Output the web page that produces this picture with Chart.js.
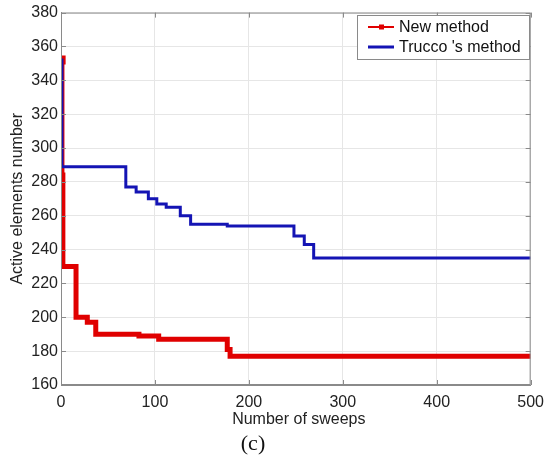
<!DOCTYPE html>
<html>
<head>
<meta charset="utf-8">
<script src="https://cdn.jsdelivr.net/npm/chart.js@4/dist/chart.umd.min.js"></script>
<style>
  html, body { margin: 0; padding: 0; background: #fff; }
  #wrap { width: 552px; height: 463px; }
</style>
</head>
<body>
<div id="wrap"><canvas id="c" width="552" height="463"></canvas></div>
<script>
// step points (sweep, value) where each method changes level
var newSweeps = [0, 1, 2, 16, 28, 37, 83, 104, 177, 180, 500];
var newValues = [352, 284, 230, 200, 197, 190, 189, 187, 181, 177, 177];

var truccoSweeps = [0, 1, 69, 80, 93, 102, 112, 127, 138, 177, 248, 259, 269, 500];
var truccoValues = [352, 289, 277, 274, 270, 267, 265, 260, 255, 254, 248, 243, 235, 235];

var xTicks = [0, 100, 200, 300, 400, 500];
var yTicks = [160, 180, 200, 220, 240, 260, 280, 300, 320, 340, 360, 380];

var seriesNames = ['New method', "Trucco 's method"];
var seriesColors = ['#e00000', '#1414b4'];
var xTitle = 'Number of sweeps';
var yTitle = 'Active elements number';

function toPoints(xs, ys) {
    var pts = [];
    for (var i = 0; i < xs.length; i++) {
        pts.push({ x: xs[i], y: ys[i] });
    }
    return pts;
}

// box round the plot, inner ticks, legend, axis titles and the panel letter
var extras = {
    id: 'extras',
    afterDatasetsDraw: function (chart) {
        var ctx = chart.ctx;
        var a = chart.chartArea;
        var xs = chart.scales.x, ys = chart.scales.y;
        var sans = '"Liberation Sans", Arial, sans-serif';
        ctx.save();
        ctx.strokeStyle = '#8a8a8a';
        ctx.lineWidth = 1;
        ctx.strokeRect(a.left + 0.5, a.top + 0.5, a.right - a.left - 1, a.bottom - a.top - 1);

        ctx.beginPath();
        xTicks.forEach(function (v) {
            var px = Math.round(xs.getPixelForValue(v)) + 0.5;
            ctx.moveTo(px, a.bottom); ctx.lineTo(px, a.bottom - 5);
            ctx.moveTo(px, a.top); ctx.lineTo(px, a.top + 5);
        });
        yTicks.forEach(function (v) {
            var py = Math.round(ys.getPixelForValue(v)) + 0.5;
            ctx.moveTo(a.left, py); ctx.lineTo(a.left + 5, py);
            ctx.moveTo(a.right, py); ctx.lineTo(a.right - 5, py);
        });
        ctx.stroke();

        // legend
        var bx = 357, by = 15, bw = 172, bh = 44;
        ctx.fillStyle = '#fff';
        ctx.fillRect(bx, by, bw, bh);
        ctx.strokeStyle = '#8a8a8a';
        ctx.strokeRect(bx + 0.5, by + 0.5, bw, bh);
        var rows = [27, 47];
        ctx.font = '16px ' + sans;
        ctx.textBaseline = 'middle';
        for (var i = 0; i < seriesNames.length; i++) {
            ctx.strokeStyle = seriesColors[i];
            ctx.lineWidth = i === 0 ? 2 : 3;
            ctx.beginPath();
            ctx.moveTo(368, rows[i]);
            ctx.lineTo(394, rows[i]);
            ctx.stroke();
            if (i === 0) {
                ctx.fillStyle = seriesColors[i];
                ctx.fillRect(379, rows[i] - 2.5, 5, 5);
            }
            ctx.fillStyle = '#111';
            ctx.fillText(seriesNames[i], 399, rows[i] + 1);
        }

        ctx.fillStyle = '#222';
        ctx.textAlign = 'center';
        ctx.font = '16px ' + sans;
        ctx.fillText(xTitle, (a.left + a.right) / 2 + 3, 420);

        ctx.save();
        ctx.translate(18, (a.top + a.bottom) / 2);
        ctx.rotate(-Math.PI / 2);
        ctx.font = '16px ' + sans;
        ctx.fillText(yTitle, 0, 0);
        ctx.restore();

        ctx.font = '22px "Liberation Serif", "Times New Roman", serif';
        ctx.fillStyle = '#111';
        ctx.fillText('(c)', 253, 444);
        ctx.restore();
    }
};

new Chart(document.getElementById('c'), {
    type: 'line',
    data: {
        datasets: [
            {
                label: seriesNames[1],
                data: toPoints(truccoSweeps, truccoValues),
                borderColor: seriesColors[1],
                borderWidth: 3,
                stepped: 'before',
                pointRadius: 0,
                order: 1
            },
            {
                label: seriesNames[0],
                data: toPoints(newSweeps, newValues),
                borderColor: seriesColors[0],
                backgroundColor: seriesColors[0],
                borderWidth: 5,
                stepped: 'before',
                pointStyle: 'rect',
                pointRadius: function (c) { return c.dataIndex === 0 ? 3 : 0; },
                order: 2
            }
        ]
    },
    options: {
        responsive: false,
        animation: false,
        layout: { padding: { top: 11, right: 14, left: 0, bottom: 0 } },
        plugins: { legend: { display: false }, tooltip: { enabled: false } },
        scales: {
            x: {
                type: 'linear',
                min: 0,
                max: 500,
                afterBuildTicks: function (s) { s.ticks = xTicks.map(function (v) { return { value: v }; }); },
                afterFit: function (s) { s.height = 78; },
                grid: { color: '#e6e6e6', drawTicks: false },
                border: { color: '#8a8a8a' },
                ticks: {
                    color: '#222',
                    padding: 8,
                    maxRotation: 0,
                    font: { family: '"Liberation Sans", Arial, sans-serif', size: 16 }
                }
            },
            y: {
                min: 160,
                max: 380,
                afterBuildTicks: function (s) { s.ticks = yTicks.map(function (v) { return { value: v }; }); },
                afterFit: function (s) { s.width = 61; },
                grid: { color: '#e6e6e6', drawTicks: false },
                border: { color: '#8a8a8a' },
                ticks: {
                    color: '#222',
                    padding: 3,
                    font: { family: '"Liberation Sans", Arial, sans-serif', size: 16 }
                }
            }
        }
    },
    plugins: [extras]
});
</script>
</body>
</html>
